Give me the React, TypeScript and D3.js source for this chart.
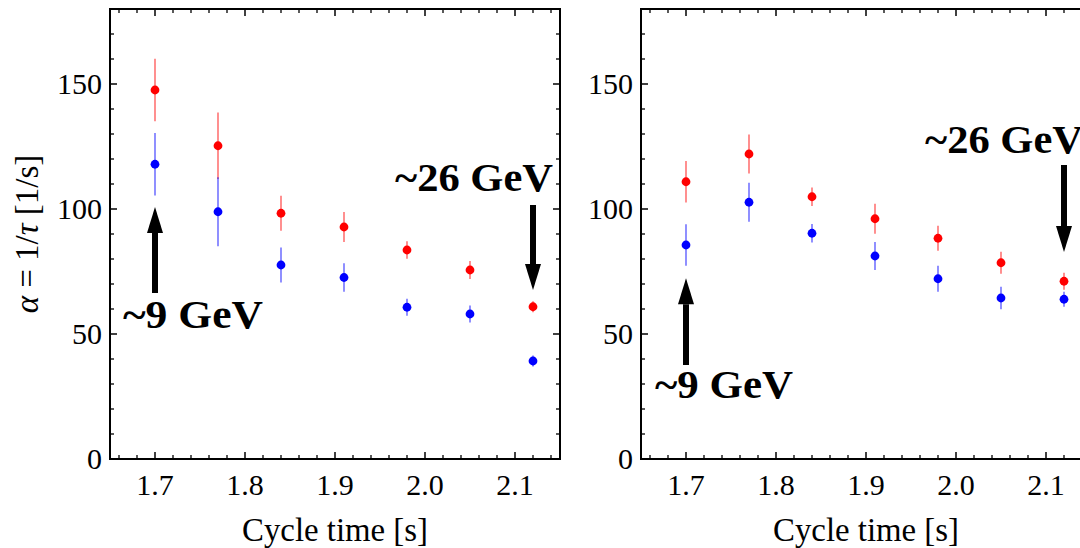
import React from "react";
import * as d3 from "d3";

// ---- Data ----
const cycleTimes = [1.7, 1.77, 1.84, 1.91, 1.98, 2.05, 2.12];

const leftRed = [147.6, 125.3, 98.3, 92.8, 83.6, 75.6, 60.9];
const leftRedErr = [12.5, 13.3, 7, 6, 3.5, 3.6, 2.2];
const leftBlue = [117.9, 98.9, 77.6, 72.6, 60.7, 58.0, 39.2];
const leftBlueErr = [12.5, 13.8, 7, 5.7, 3.4, 3.4, 2.2];

const rightRed = [110.9, 122.0, 104.9, 96.1, 88.3, 78.5, 71.1];
const rightRedErr = [8.3, 7.8, 3.7, 6, 5, 4.4, 3.4];
const rightBlue = [85.6, 102.7, 90.3, 81.2, 72.1, 64.4, 63.9];
const rightBlueErr = [8.3, 7.8, 3.7, 5.6, 5.2, 4.5, 3];

const xMajorTicks = [1.7, 1.8, 1.9, 2.0, 2.1];
const yMajorTicks = [0, 50, 100, 150];
const xDomain = [1.65, 2.15];
const yDomain = [0, 180];

const xLabel = "Cycle time [s]";

// annotations in data units: [x, yFrom, yTo]
const leftArrows = [
  [1.7, 66.4, 100.8],
  [2.12, 101.6, 67.6],
];
const rightArrows = [
  [1.7, 37.6, 72.3],
  [2.12, 117.6, 82.8],
];
const leftNotes = [
  { text: "~9 GeV", x: 1.6644, y: 52.4, len: 140 },
  { text: "~26 GeV", x: 1.9667, y: 107.2, len: 158 },
];
const rightNotes = [
  { text: "~9 GeV", x: 1.6656, y: 24.4, len: 138 },
  { text: "~26 GeV", x: 1.9656, y: 122.4, len: 158 },
];

const RED = "#ff0000";
const BLUE = "#0000ff";
const SERIF = "'Liberation Serif', 'Times New Roman', serif";

type PanelProps = {
  x0: number;
  red: number[];
  redErr: number[];
  blue: number[];
  blueErr: number[];
  arrows: number[][];
  notes: { text: string; x: number; y: number; len: number }[];
  showYLabel: boolean;
};

const W = 450;
const TOP = 9;
const BOTTOM = 459;

function Panel({ x0, red, redErr, blue, blueErr, arrows, notes, showYLabel }: PanelProps) {
  const x = d3.scaleLinear().domain(xDomain).range([x0, x0 + W]);
  const y = d3.scaleLinear().domain(yDomain).range([BOTTOM, TOP]);

  const xMinor = d3.range(1.66, 2.1401, 0.02).filter(
    (v) => !xMajorTicks.some((m) => Math.abs(m - v) < 1e-6)
  );
  const yMinor = d3.range(10, 180, 10).filter((v) => v % 50 !== 0);

  const series = [
    { vals: red, errs: redErr, color: RED },
    { vals: blue, errs: blueErr, color: BLUE },
  ];

  return (
    <g>
      {/* frame */}
      <rect
        x={x0}
        y={TOP}
        width={W}
        height={BOTTOM - TOP}
        fill="none"
        stroke="#000"
        strokeWidth={2}
      />
      {/* x ticks bottom + top */}
      {xMajorTicks.map((t) => (
        <g key={"xM" + t}>
          <line x1={x(t)} x2={x(t)} y1={BOTTOM} y2={BOTTOM - 7} stroke="#000" strokeWidth={1.5} />
          <line x1={x(t)} x2={x(t)} y1={TOP} y2={TOP + 7} stroke="#000" strokeWidth={1.5} />
          <text
            x={x(t)}
            y={495}
            textAnchor="middle"
            fontFamily={SERIF}
            fontSize={30}
            fill="#000"
          >
            {t.toFixed(1)}
          </text>
        </g>
      ))}
      {xMinor.map((t) => (
        <g key={"xm" + t}>
          <line x1={x(t)} x2={x(t)} y1={BOTTOM} y2={BOTTOM - 4} stroke="#000" strokeWidth={1.3} />
          <line x1={x(t)} x2={x(t)} y1={TOP} y2={TOP + 4} stroke="#000" strokeWidth={1.3} />
        </g>
      ))}
      {/* y ticks left + right */}
      {yMajorTicks.map((t) => (
        <g key={"yM" + t}>
          <line x1={x0} x2={x0 + 7} y1={y(t)} y2={y(t)} stroke="#000" strokeWidth={1.5} />
          <line x1={x0 + W} x2={x0 + W - 7} y1={y(t)} y2={y(t)} stroke="#000" strokeWidth={1.5} />
          <text
            x={x0 - 8}
            y={y(t)}
            dy="0.34em"
            textAnchor="end"
            fontFamily={SERIF}
            fontSize={30}
            fill="#000"
          >
            {t}
          </text>
        </g>
      ))}
      {yMinor.map((t) => (
        <g key={"ym" + t}>
          <line x1={x0} x2={x0 + 4} y1={y(t)} y2={y(t)} stroke="#000" strokeWidth={1.3} />
          <line x1={x0 + W} x2={x0 + W - 4} y1={y(t)} y2={y(t)} stroke="#000" strokeWidth={1.3} />
        </g>
      ))}
      {/* x label */}
      <text
        x={x0 + W / 2}
        y={541}
        textAnchor="middle"
        fontFamily={SERIF}
        fontSize={33}
        fill="#000"
        textLength={186}
        lengthAdjust="spacingAndGlyphs"
      >
        {xLabel}
      </text>
      {showYLabel && (
        <text
          transform={`translate(38, ${(TOP + BOTTOM) / 2}) rotate(-90)`}
          textAnchor="middle"
          fontFamily={SERIF}
          fontSize={33}
          fill="#000"
        >
          <tspan fontStyle="italic">α</tspan>
          {" = 1/"}
          <tspan fontStyle="italic">τ</tspan>
          {" [1/s]"}
        </text>
      )}
      {/* error bars and points */}
      {series.map((s, si) => (
        <g key={"s" + si}>
          {cycleTimes.map((c, i) => (
            <line
              key={"e" + i}
              x1={x(c)}
              x2={x(c)}
              y1={y(s.vals[i] - s.errs[i])}
              y2={y(s.vals[i] + s.errs[i])}
              stroke={s.color}
              strokeOpacity={0.55}
              strokeWidth={1.6}
            />
          ))}
        </g>
      ))}
      {series.map((s, si) => (
        <g key={"p" + si}>
          {cycleTimes.map((c, i) => (
            <circle key={"c" + i} cx={x(c)} cy={y(s.vals[i])} r={4.4} fill={s.color} />
          ))}
        </g>
      ))}
      {/* arrows */}
      {arrows.map((a, i) => {
        const ax = x(a[0]);
        const yFrom = y(a[1]);
        const yTo = y(a[2]);
        const dir = yTo < yFrom ? -1 : 1;
        const headLen = 26;
        const headHalf = 8;
        const base = yTo - dir * headLen;
        return (
          <g key={"a" + i}>
            <line x1={ax} x2={ax} y1={yFrom} y2={base} stroke="#000" strokeWidth={6} />
            <polygon
              points={`${ax - headHalf},${base} ${ax + headHalf},${base} ${ax},${yTo}`}
              fill="#000"
            />
          </g>
        );
      })}
      {notes.map((n, i) => (
        <text
          key={"n" + i}
          x={x(n.x)}
          y={y(n.y)}
          fontFamily={SERIF}
          fontWeight="bold"
          fontSize={40}
          fill="#000"
          textLength={n.len}
          lengthAdjust="spacingAndGlyphs"
        >
          {n.text}
        </text>
      ))}
    </g>
  );
}

export default function App() {
  return (
    <svg
      width={1080}
      height={548}
      style={{ position: "fixed", left: 0, top: 0, background: "#fff" }}
    >
      <rect x={0} y={0} width={1080} height={548} fill="#fff" />
      <Panel
        x0={110}
        red={leftRed}
        redErr={leftRedErr}
        blue={leftBlue}
        blueErr={leftBlueErr}
        arrows={leftArrows}
        notes={leftNotes}
        showYLabel={true}
      />
      <Panel
        x0={641}
        red={rightRed}
        redErr={rightRedErr}
        blue={rightBlue}
        blueErr={rightBlueErr}
        arrows={rightArrows}
        notes={rightNotes}
        showYLabel={false}
      />
    </svg>
  );
}
